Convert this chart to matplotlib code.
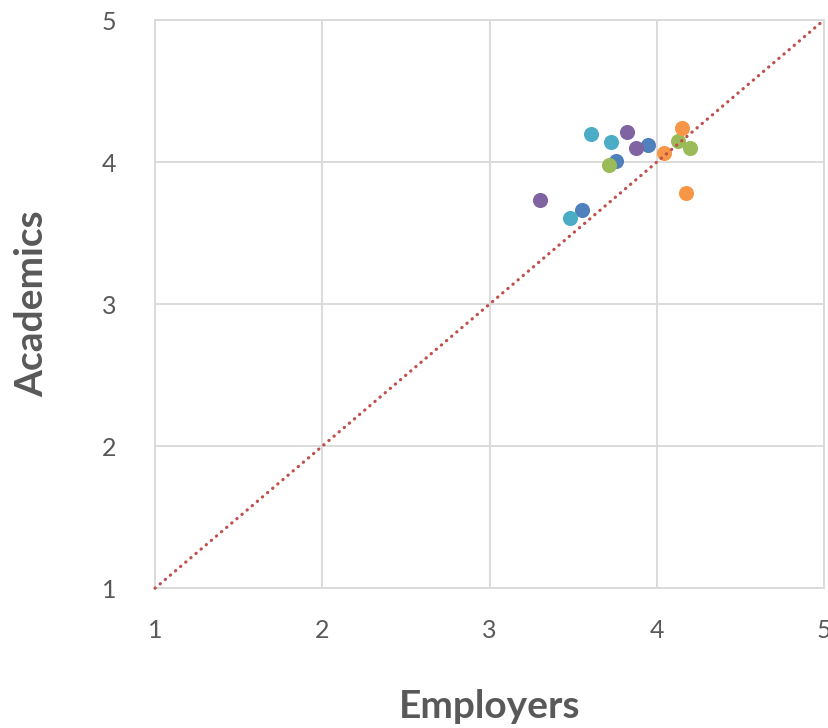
import matplotlib.pyplot as plt

# Data (employer rating vs academic rating)
blue_x = [3.950, 3.754, 3.552]
blue_y = [4.122, 4.007, 3.662]
green_x = [3.717, 4.128, 4.196]
green_y = [3.979, 4.148, 4.101]
purple_x = [3.820, 3.874, 3.301]
purple_y = [4.213, 4.101, 3.732]
cyan_x = [3.605, 3.725, 3.481]
cyan_y = [4.197, 4.139, 3.604]
orange_x = [4.150, 4.044, 4.172]
orange_y = [4.242, 4.063, 3.782]

ticks = [1, 2, 3, 4, 5]
diag = [1, 5]

plt.rcParams['font.family'] = ['Lato', 'DejaVu Sans']

fig = plt.figure(figsize=(8.29, 7.28), dpi=100)
ax = fig.add_axes([0.187, 0.192, 0.807, 0.7805])

series = [
    (blue_x, blue_y, '#4F81BD'),
    (green_x, green_y, '#9BBB59'),
    (purple_x, purple_y, '#8064A2'),
    (cyan_x, cyan_y, '#4BACC6'),
    (orange_x, orange_y, '#F79646'),
]
for xs, ys, c in series:
    ax.scatter(xs, ys, s=118, color=c, linewidths=0, zorder=3)

# 1:1 reference line
ax.plot(diag, diag, color='#C0504D', linewidth=2.3,
        linestyle=(0, (0.1, 2.0)), dash_capstyle='round', zorder=4,
        clip_on=False)

ax.set_xlim(1, 5)
ax.set_ylim(1, 5)
ax.set_xticks(ticks)
ax.set_yticks(ticks)
ax.grid(True, color='#D9D9D9', linewidth=1.3, zorder=0)
ax.set_axisbelow(True)
for s in ax.spines.values():
    s.set_color('#D9D9D9')
    s.set_linewidth(1.3)
ax.tick_params(length=0, labelsize=18, labelcolor='#595959')
ax.tick_params(axis='x', pad=22)
ax.tick_params(axis='y', pad=28)

ax.set_xlabel('Employers', fontsize=28, fontweight='bold', color='#595959', labelpad=34)
ax.set_ylabel('Academics', fontsize=28, fontweight='bold', color='#595959', labelpad=38)

fig.savefig('out.png', dpi=100)
